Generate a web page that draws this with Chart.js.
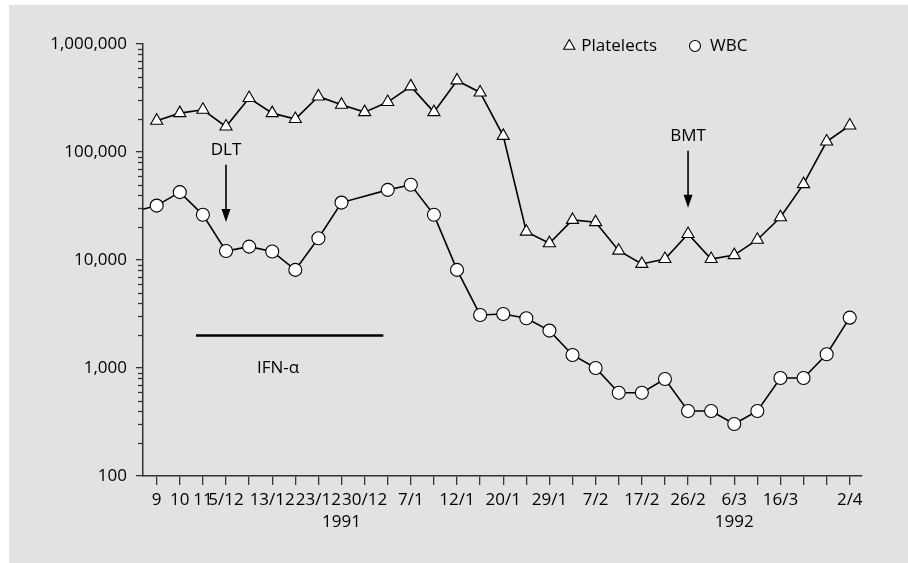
<!DOCTYPE html>
<html><head><meta charset="utf-8">
<script src="https://cdn.jsdelivr.net/npm/chart.js@4/dist/chart.umd.min.js"></script>
<style>html,body{margin:0;padding:0;background:#fff;}canvas{display:block;}</style>
</head><body>
<canvas id="c" width="908" height="563"></canvas>
<script>
// ---- data ----
const tickLabels = ['9','10','11','5/12','','13/12','','23/12','','30/12','','7/1','','12/1','','20/1','','29/1','','7/2','','17/2','','26/2','','6/3','','16/3','','','2/4'];
const yearLabels = ['1991','1992'];
const yearPositions = [8, 25];
const plateletX = [0,1,2,3,4,5,6,7,8,9,10,11,12,13,14,15,16,17,18,19,20,21,22,23,24,25,26,27,28,29,30];
const plateletValues = [195000,229000,246000,172000,316000,229000,202000,327000,274000,234000,290000,405000,234000,460000,356000,141000,18300,14300,23500,22400,12200,9200,10200,17400,10200,11100,15400,24900,50400,125000,176000];
const wbcX = [-1,0,1,2,3,4,5,6,7,8,10,11,12,13,14,15,16,17,18,19,20,21,22,23,24,25,26,27,28,29,30];
const wbcValues = [28000,31900,42500,26200,12100,13300,12000,8100,15900,34000,44600,49700,26200,8100,3100,3160,2890,2220,1320,1000,590,590,790,400,400,303,400,807,807,1340,2925];
const yMajorTicks = [100,1000,10000,100000,1000000];

const FONT = 'Open Sans';
const INK = '#000';

function fmt(v){ return String(Math.round(v)).replace(/\B(?=(\d{3})+(?!\d))/g, ','); }

const extras = {
  id:'extras',
  beforeDraw(chart){
    const c = chart.ctx;
    c.save();
    c.fillStyle = '#fff'; c.fillRect(0,0,chart.width,chart.height);
    c.fillStyle = '#e2e2e2'; c.fillRect(9,5,chart.width-9,chart.height-5);
    c.restore();
  },
  afterDraw(chart){
    const c = chart.ctx, x = chart.scales.x, y = chart.scales.y;
    c.save();
    // minor y ticks
    c.strokeStyle = '#333'; c.lineWidth = 1.3;
    const L = chart.chartArea.left;
    for (let e = 2; e < 6; e++) {
      for (let m = 2; m <= 9; m++) {
        const py = Math.round(y.getPixelForValue(m*Math.pow(10,e))) + 0.5;
        c.beginPath(); c.moveTo(L-5, py); c.lineTo(L, py); c.stroke();
      }
    }
    c.fillStyle = INK;
    c.font = '17px "' + FONT + '"';
    c.textAlign = 'center'; c.textBaseline = 'middle';
    // year labels
    yearLabels.forEach((t,i)=>{ c.fillText(t, x.getPixelForValue(yearPositions[i]), 522); });
    // annotations
    c.fillText('DLT', x.getPixelForValue(3), y.getPixelForValue(105000));
    c.fillText('BMT', x.getPixelForValue(23), y.getPixelForValue(141000));
    c.fillText('IFN-\u03b1', x.getPixelForValue(5.25), y.getPixelForValue(1000));
    function arrow(px, v1, v2){
      const y1 = y.getPixelForValue(v1), y2 = y.getPixelForValue(v2);
      c.strokeStyle = INK; c.lineWidth = 1.6;
      c.beginPath(); c.moveTo(px, y1); c.lineTo(px, y2-10); c.stroke();
      c.beginPath(); c.moveTo(px-4.5, y2-13); c.lineTo(px+4.5, y2-13); c.lineTo(px, y2); c.closePath(); c.fill();
    }
    arrow(x.getPixelForValue(3), 76000, 22500);
    arrow(x.getPixelForValue(23), 102600, 30400);
    // IFN bar
    c.strokeStyle = INK; c.lineWidth = 2.5;
    const iy = y.getPixelForValue(2000);
    c.beginPath(); c.moveTo(x.getPixelForValue(1.7), iy); c.lineTo(x.getPixelForValue(9.81), iy); c.stroke();
    // legend
    const ly = 46;
    c.fillStyle = INK; c.textAlign = 'right';
    c.fillText('Platelects', 657, ly);
    const pw = c.measureText('Platelects').width;
    c.textAlign = 'left';
    c.fillText('WBC', 710, ly);
    c.lineWidth = 1.1; c.strokeStyle = INK; c.fillStyle = '#fff';
    const r = 6.5, tx = 657 - pw - 12;
    c.beginPath();
    c.moveTo(tx, ly - r); c.lineTo(tx + r*0.866, ly + r*0.5); c.lineTo(tx - r*0.866, ly + r*0.5); c.closePath();
    c.fill(); c.stroke();
    c.beginPath(); c.arc(695, ly, 5.5, 0, Math.PI*2); c.fill(); c.stroke();
    c.restore();
  }
};

new Chart(document.getElementById('c'), {
  type: 'line',
  data: {
    datasets: [
      {
        label: 'Platelects',
        data: plateletX.map((xv,i)=>({x:xv, y:plateletValues[i]})),
        borderColor: INK, borderWidth: 1.6,
        pointStyle: 'triangle', pointRadius: 7, pointBackgroundColor: '#fff',
        pointBorderColor: INK, pointBorderWidth: 1.1, tension: 0
      },
      {
        label: 'WBC',
        data: wbcX.map((xv,i)=>({x:xv, y:wbcValues[i]})),
        borderColor: INK, borderWidth: 1.6,
        pointStyle: 'circle', pointRadius: ctx => (ctx.raw && ctx.raw.x < 0) ? 0 : 6.5,
        pointBackgroundColor: '#fff', pointBorderColor: INK, pointBorderWidth: 1.1,
        tension: 0, clip: 0
      }
    ]
  },
  options: {
    responsive: false, animation: false, devicePixelRatio: 1,
    layout: { padding: { left: 0, top: 44, right: 46, bottom: 0 } },
    plugins: { legend: { display: false }, tooltip: { enabled: false } },
    scales: {
      x: {
        type: 'linear', min: -0.593, max: 30.53,
        afterFit(s){ s.height = 87; },
        afterBuildTicks(s){ s.ticks = tickLabels.map((_,i)=>({value:i})); },
        ticks: { autoSkip: false, maxRotation: 0, padding: 5, color: INK,
          font: { family: FONT, size: 17 },
          callback: v => tickLabels[Math.round(v)] },
        grid: { drawOnChartArea: false, tickLength: 9, color: '#333', lineWidth: 1.3 },
        border: { color: '#333', width: 1.5 }
      },
      y: {
        type: 'logarithmic', min: 100, max: 1000000,
        afterFit(s){ s.width = 143; },
        afterBuildTicks(s){ s.ticks = yMajorTicks.map(v=>({value:v})); },
        ticks: { padding: 9, color: INK, font: { family: FONT, size: 17 }, callback: v => fmt(v) },
        grid: { drawOnChartArea: false, tickLength: 7, color: '#333', lineWidth: 1.3 },
        border: { color: '#333', width: 1.5 }
      }
    }
  },
  plugins: [extras]
});
</script>
</body></html>
